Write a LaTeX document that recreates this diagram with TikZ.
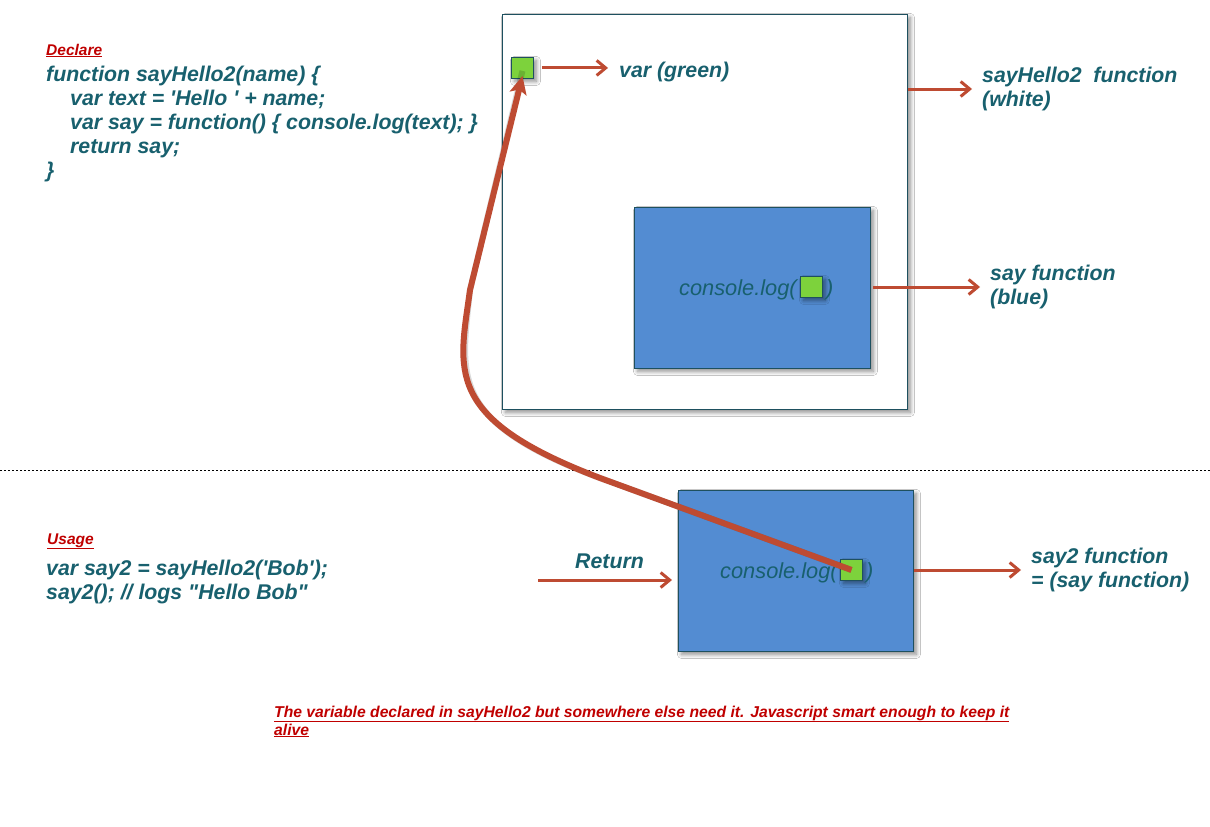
\documentclass[tikz,border=0pt]{standalone}
\usepackage{fontspec}
\setmainfont{Liberation Sans}
\usetikzlibrary{arrows.meta,shadows.blur}
\definecolor{codeteal}{RGB}{24,96,110}
\definecolor{headred}{RGB}{192,0,0}
\definecolor{arrred}{RGB}{190,75,50}
\definecolor{boxblue}{RGB}{83,140,210}
\definecolor{boxline}{RGB}{30,80,95}
\definecolor{vargreen}{RGB}{125,210,60}
\begin{document}
\begin{tikzpicture}[x=1pt,y=-1pt,
  code/.style={anchor=base west, inner sep=0pt, text=codeteal, font=\fontsize{21.3}{24}\selectfont\bfseries\itshape},
  lab/.style={anchor=west, inner sep=0pt, align=left, text=codeteal, font=\fontsize{21.3}{24}\selectfont\bfseries\itshape},
  head/.style={anchor=base west, inner sep=0pt, text=headred, font=\fontsize{15.5}{18}\selectfont\bfseries\itshape},
  note/.style={anchor=base west, inner sep=0pt, text=headred, font=\fontsize{15.7}{18}\selectfont\bfseries\itshape},
  clog/.style={anchor=base west, inner sep=0pt, text=codeteal, font=\fontsize{21.8}{24}\selectfont\itshape},
  box/.style={draw=boxline, line width=0.9pt, anchor=north west, inner sep=0pt,
    blur shadow={shadow xshift=3pt, shadow yshift=-3pt, shadow blur steps=8, shadow blur radius=4pt, shadow opacity=45}},
  varsq/.style={box, fill=vargreen, minimum width=22pt, minimum height=21pt},
  arr/.style={draw=arrred, line width=3pt, -{Straight Barb[length=9pt,width=15pt]}},
  bigarr/.style={draw=arrred, line width=6pt, -{Stealth[length=18pt,width=17pt,inset=4pt]}}
]
\useasboundingbox[fill=white] (0,0) rectangle (1210,827);

% upper part
\node[box, fill=white, minimum width=405pt, minimum height=395pt] (wbox) at (502,14) {};
\node[box, fill=boxblue, minimum width=236pt, minimum height=161pt] (ubox) at (634,207) {};
\node[varsq] (vsq) at (511,57) {};
\node[clog] (uclog) at (679,295) {console.log(};
\node[varsq] (usq) at (800,276) {};
\node[clog] (uclose) at (826,295) {)};

\node[code] (vlabel) at (619,77) {var (green)};
\node[lab] (wlabel) at (982,89) {sayHello2\ \ function\\(white)};
\node[lab] (slabel) at (990,287) {say function\\(blue)};

\draw[arr] ([xshift=8pt]vsq.east) -- ([xshift=-11pt]vlabel.west |- vsq.east);
\draw[arr] (wbox.east |- wlabel.west) -- ([xshift=-10pt]wlabel.west);
\draw[arr] ([xshift=2pt]ubox.east |- slabel.west) -- ([xshift=-10pt]slabel.west);

% code
\node[head] (declare) at (46,55) {\underline{Declare}};
\node[code] (c1) at (46,81) {function sayHello2(name) \{};
\node[code] (c2) at (70,105) {var text = \textquotesingle Hello \textquotesingle\ + name;};
\node[code] (c3) at (70,129) {var say = function() \{ console.log(text); \}};
\node[code] (c4) at (70,153) {return say;};
\node[code] (c5) at (46,177) {\}};

% separator
\coordinate (sepl) at (0,470);
\coordinate (sepr) at (1210,470);
\draw[black, line width=0.7pt, dash pattern=on 2pt off 2pt] (sepl) -- (sepr);

% lower part
\node[box, fill=boxblue, minimum width=235pt, minimum height=161pt] (lbox) at (678,490) {};
\node[clog] (lclog) at (720,578) {console.log(};
\node[varsq] (lsq) at (840,559) {};
\node[clog] (lclose) at (866,578) {)};

\node[head] (usage) at (47,544) {\underline{Usage}};
\node[code] (u1) at (46,575) {var say2 = sayHello2(\textquotesingle Bob\textquotesingle);};
\node[code] (u2) at (46,599) {say2(); // logs \textquotedbl Hello Bob\textquotedbl};

\node[code] (ret) at (575,568) {Return};
\coordinate (retstart) at (538,580);
\draw[arr] (retstart) -- ([xshift=-6pt]retstart -| lbox.west);

\node[lab] (s2label) at (1031,570) {say2 function\\= (say function)};
\draw[arr] (lbox.east |- s2label.west) -- ([xshift=-10pt]s2label.west);

% note
\node[note] (n1) at (274,717) {\underline{The variable declared in sayHello2 but somewhere else need it. Javascript smart enough to keep it}};
\node[note] (n2) at (274,735) {\underline{alive}};

% closure arrow
\coordinate (b1) at (600,478);
\coordinate (b2) at (470,290);
\draw[black, opacity=0.15, line width=6pt, xshift=3pt, yshift=-3pt]
  (lsq.center) -- (b1) .. controls (442,418) and (459,370) .. (b2) -- ([yshift=8pt]vsq.south);
\draw[bigarr] (lsq.center) -- (b1) .. controls (442,418) and (459,370) .. (b2) -- ([yshift=3pt]vsq.south);
\end{tikzpicture}
\end{document}
